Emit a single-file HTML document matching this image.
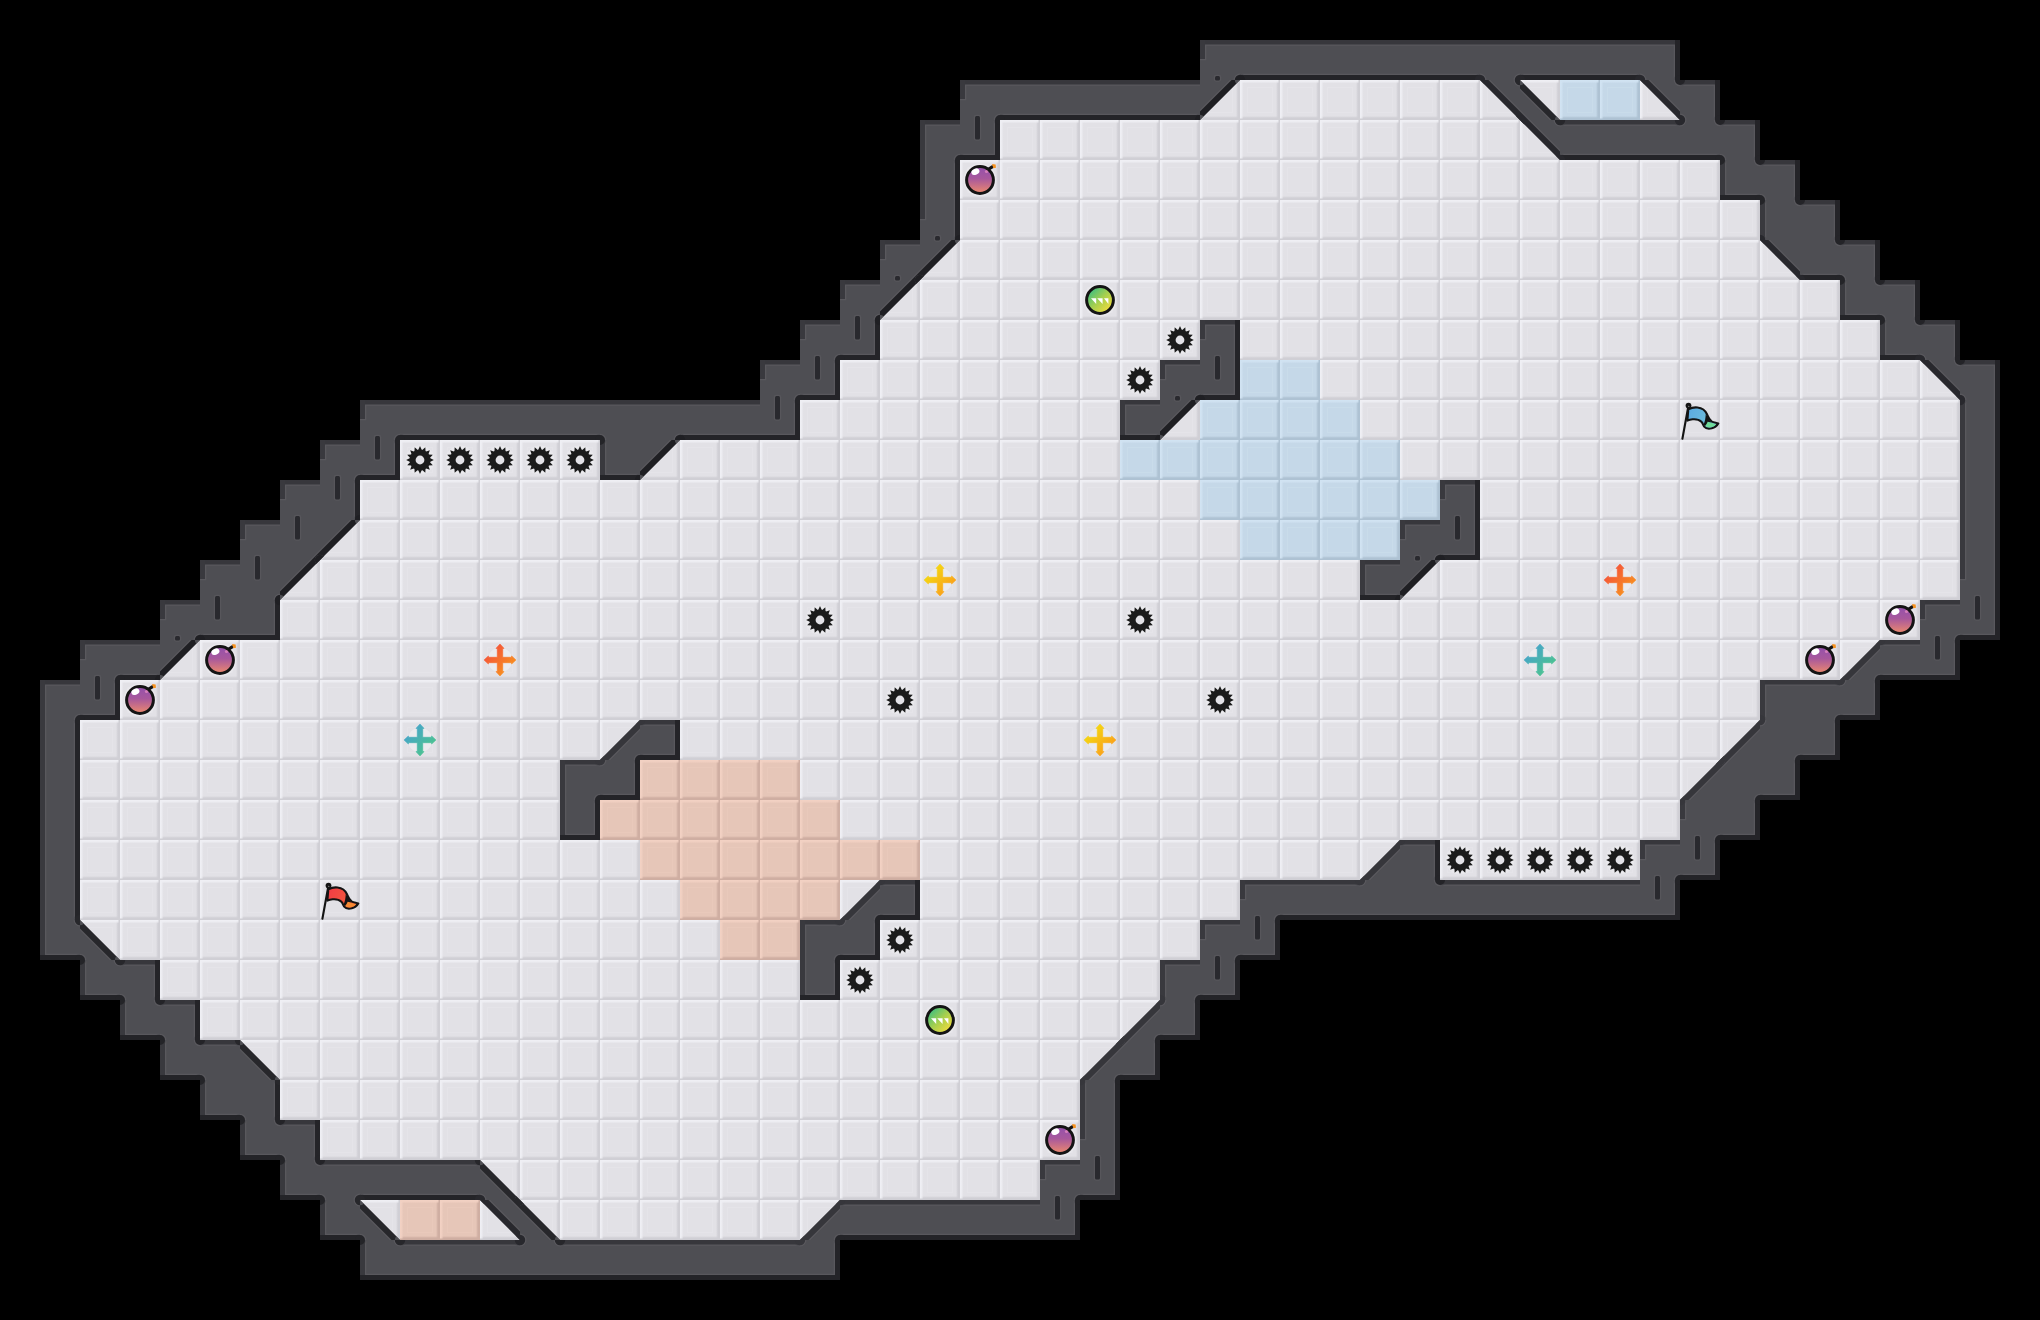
<!DOCTYPE html>
<html lang="en"><head><meta charset="utf-8"><title>Map</title><style>html,body{margin:0;padding:0;background:#000;font-family:"Liberation Sans",sans-serif}body{width:2040px;height:1320px;overflow:hidden}svg{display:block}</style></head><body>
<svg width="2040" height="1320" viewBox="0 0 2040 1320">
<defs>
<linearGradient id="pfsx" x1="0" y1="0" x2="1" y2="0"><stop offset="0" stop-color="#d0cfd5" stop-opacity="0"/><stop offset=".5" stop-color="#d0cfd5"/><stop offset="1" stop-color="#d0cfd5"/></linearGradient>
<linearGradient id="pfsy" x1="0" y1="0" x2="0" y2="1"><stop offset="0" stop-color="#d0cfd5" stop-opacity="0"/><stop offset=".5" stop-color="#d0cfd5"/><stop offset="1" stop-color="#d0cfd5"/></linearGradient>
<linearGradient id="pfhx" x1="0" y1="0" x2="1" y2="0"><stop offset="0" stop-color="#efeff4"/><stop offset=".3" stop-color="#efeff4"/><stop offset="1" stop-color="#efeff4" stop-opacity="0"/></linearGradient>
<linearGradient id="pfhy" x1="0" y1="0" x2="0" y2="1"><stop offset="0" stop-color="#efeff4"/><stop offset=".3" stop-color="#efeff4"/><stop offset="1" stop-color="#efeff4" stop-opacity="0"/></linearGradient>
<pattern id="pf" width="40" height="40" patternUnits="userSpaceOnUse"><rect width="40" height="40" fill="#e2e1e6"/><rect x="7.5" y="7.5" width="25" height="25" fill="none" stroke="#e5e4e9" stroke-width="1"/><rect x="36" width="4" height="40" fill="url(#pfsx)"/><rect y="36" width="40" height="4" fill="url(#pfsy)"/><rect width="3.6" height="38.5" fill="url(#pfhx)"/><rect width="38.5" height="3.6" fill="url(#pfhy)"/></pattern>
<linearGradient id="pbsx" x1="0" y1="0" x2="1" y2="0"><stop offset="0" stop-color="#aec2d3" stop-opacity="0"/><stop offset=".5" stop-color="#aec2d3"/><stop offset="1" stop-color="#aec2d3"/></linearGradient>
<linearGradient id="pbsy" x1="0" y1="0" x2="0" y2="1"><stop offset="0" stop-color="#aec2d3" stop-opacity="0"/><stop offset=".5" stop-color="#aec2d3"/><stop offset="1" stop-color="#aec2d3"/></linearGradient>
<linearGradient id="pbhx" x1="0" y1="0" x2="1" y2="0"><stop offset="0" stop-color="#d1e3f2"/><stop offset=".3" stop-color="#d1e3f2"/><stop offset="1" stop-color="#d1e3f2" stop-opacity="0"/></linearGradient>
<linearGradient id="pbhy" x1="0" y1="0" x2="0" y2="1"><stop offset="0" stop-color="#d1e3f2"/><stop offset=".3" stop-color="#d1e3f2"/><stop offset="1" stop-color="#d1e3f2" stop-opacity="0"/></linearGradient>
<pattern id="pb" width="40" height="40" patternUnits="userSpaceOnUse"><rect width="40" height="40" fill="#c5d8e8"/><rect x="7.5" y="7.5" width="25" height="25" fill="none" stroke="#c9dcea" stroke-width="1"/><rect x="36" width="4" height="40" fill="url(#pbsx)"/><rect y="36" width="40" height="4" fill="url(#pbsy)"/><rect width="3.6" height="38.5" fill="url(#pbhx)"/><rect width="38.5" height="3.6" fill="url(#pbhy)"/></pattern>
<linearGradient id="pssx" x1="0" y1="0" x2="1" y2="0"><stop offset="0" stop-color="#cfaea2" stop-opacity="0"/><stop offset=".5" stop-color="#cfaea2"/><stop offset="1" stop-color="#cfaea2"/></linearGradient>
<linearGradient id="pssy" x1="0" y1="0" x2="0" y2="1"><stop offset="0" stop-color="#cfaea2" stop-opacity="0"/><stop offset=".5" stop-color="#cfaea2"/><stop offset="1" stop-color="#cfaea2"/></linearGradient>
<linearGradient id="pshx" x1="0" y1="0" x2="1" y2="0"><stop offset="0" stop-color="#f2d1c3"/><stop offset=".3" stop-color="#f2d1c3"/><stop offset="1" stop-color="#f2d1c3" stop-opacity="0"/></linearGradient>
<linearGradient id="pshy" x1="0" y1="0" x2="0" y2="1"><stop offset="0" stop-color="#f2d1c3"/><stop offset=".3" stop-color="#f2d1c3"/><stop offset="1" stop-color="#f2d1c3" stop-opacity="0"/></linearGradient>
<pattern id="ps" width="40" height="40" patternUnits="userSpaceOnUse"><rect width="40" height="40" fill="#e6c6b8"/><rect x="7.5" y="7.5" width="25" height="25" fill="none" stroke="#e9c9bb" stroke-width="1"/><rect x="36" width="4" height="40" fill="url(#pssx)"/><rect y="36" width="40" height="4" fill="url(#pssy)"/><rect width="3.6" height="38.5" fill="url(#pshx)"/><rect width="38.5" height="3.6" fill="url(#pshy)"/></pattern>
<clipPath id="wc"><path d="M1200 40h480v40h-480zM960 80h240v40h-240zM1680 80h40v40h-40zM920 120h80v40h-80zM1560 120h200v40h-200zM920 160h40v40h-40zM1720 160h80v40h-80zM920 200h40v40h-40zM1760 200h80v40h-80zM880 240h40v40h-40zM1800 240h80v40h-80zM840 280h40v40h-40zM1840 280h80v40h-80zM800 320h80v40h-80zM1200 320h40v40h-40zM1880 320h80v40h-80zM760 360h80v40h-80zM1160 360h80v40h-80zM1960 360h40v40h-40zM360 400h440v40h-440zM1120 400h40v40h-40zM1960 400h40v40h-40zM320 440h80v40h-80zM600 440h40v40h-40zM1960 440h40v40h-40zM280 480h80v40h-80zM1440 480h40v40h-40zM1960 480h40v40h-40zM240 520h80v40h-80zM1400 520h80v40h-80zM1960 520h40v40h-40zM200 560h80v40h-80zM1360 560h40v40h-40zM1960 560h40v40h-40zM160 600h120v40h-120zM1920 600h80v40h-80zM80 640h80v40h-80zM1880 640h80v40h-80zM40 680h80v40h-80zM1760 680h120v40h-120zM40 720h40v40h-40zM640 720h40v40h-40zM1760 720h80v40h-80zM40 760h40v40h-40zM560 760h80v40h-80zM1720 760h80v40h-80zM40 800h40v40h-40zM560 800h40v40h-40zM1680 800h80v40h-80zM40 840h40v40h-40zM1400 840h40v40h-40zM1640 840h80v40h-80zM40 880h40v40h-40zM880 880h40v40h-40zM1240 880h440v40h-440zM40 920h40v40h-40zM800 920h80v40h-80zM1200 920h80v40h-80zM80 960h80v40h-80zM800 960h40v40h-40zM1160 960h80v40h-80zM120 1000h80v40h-80zM1160 1000h40v40h-40zM160 1040h80v40h-80zM1120 1040h40v40h-40zM200 1080h80v40h-80zM1080 1080h40v40h-40zM240 1120h80v40h-80zM1080 1120h40v40h-40zM280 1160h200v40h-200zM1040 1160h80v40h-80zM320 1200h40v40h-40zM840 1200h240v40h-240zM360 1240h480v40h-480zM1200 80h40l-40 40zM1480 80h40v40zM1520 80v40h40zM1640 80h40v40zM1520 120h40v40zM920 240h40l-40 40zM1760 240h40v40zM880 280h40l-40 40zM1920 360h40v40zM1160 400h40l-40 40zM640 440h40l-40 40zM320 520h40l-40 40zM280 560h40l-40 40zM1400 560h40l-40 40zM160 640h40l-40 40zM1880 640v40h-40zM640 720v40h-40zM1760 720v40h-40zM1720 760v40h-40zM1400 840v40h-40zM880 880v40h-40zM80 920v40h40zM1160 1000v40h-40zM240 1040v40h40zM1120 1040v40h-40zM480 1160v40h40zM360 1200v40h40zM480 1200h40v40zM520 1200v40h40zM840 1200v40h-40z"/></clipPath>
<g id="sp"><circle r="14.5" fill="#fff" opacity=".25"/><polygon points="0.00,-13.90 1.95,-9.81 5.32,-12.84 5.56,-8.31 9.83,-9.83 8.31,-5.56 12.84,-5.32 9.81,-1.95 13.90,0.00 9.81,1.95 12.84,5.32 8.31,5.56 9.83,9.83 5.56,8.31 5.32,12.84 1.95,9.81 0.00,13.90 -1.95,9.81 -5.32,12.84 -5.56,8.31 -9.83,9.83 -8.31,5.56 -12.84,5.32 -9.81,1.95 -13.90,0.00 -9.81,-1.95 -12.84,-5.32 -8.31,-5.56 -9.83,-9.83 -5.56,-8.31 -5.32,-12.84 -1.95,-9.81" fill="#1b1b1b"/><circle r="10.5" fill="#1b1b1b"/><circle r="4.4" fill="#e3e2e7"/></g>
<linearGradient id="gb" x1="0" y1="0" x2="0" y2="1"><stop offset="0" stop-color="#9350ad"/><stop offset=".45" stop-color="#a8589c"/><stop offset="1" stop-color="#ee8a6c"/></linearGradient>
<g id="bm"><circle r="16.5" fill="#fff" opacity=".25"/><circle r="13.4" fill="url(#gb)" stroke="#141414" stroke-width="3"/><path d="M8 -10.5l4.2 -2.6" stroke="#141414" stroke-width="3.2" fill="none" stroke-linecap="round"/><ellipse cx="-4.6" cy="-8.3" rx="4.2" ry="3" fill="#fff" transform="rotate(-25 -4.6 -8.3)"/><circle cx="6.5" cy="-8.5" r="1.6" fill="#e58ac0" opacity=".8"/><path d="M12 -16l3.6 .4l.4 3.4l-2.6 .4z" fill="#f6921e"/></g>
<linearGradient id="gg" x1="0" y1="0" x2="1" y2="1"><stop offset=".1" stop-color="#35bd84"/><stop offset=".5" stop-color="#a6cf4e"/><stop offset=".9" stop-color="#f7dc3c"/></linearGradient>
<g id="gr"><circle r="16.5" fill="#fff" opacity=".25"/><circle r="13.4" fill="url(#gg)" stroke="#141414" stroke-width="3"/><path d="M-9 -1.7h5.2v5.7zM-2.8 -1.7h5.4v5.7zM4 -1.7h4.4v5.7z" fill="#fff"/></g>
<linearGradient id="lco" x1="0" y1="0" x2="1" y2="1"><stop offset=".15" stop-color="#f4503a"/><stop offset=".85" stop-color="#f8941e"/></linearGradient>
<g id="co"><circle r="12.3" fill="#f2f4f4" opacity=".55"/><path d="M-2.7 -2.7V-11.6H-4L0 -15.9L4 -11.6H2.7V-2.7H11.6V-4L15.9 0L11.6 4V2.7H2.7V11.6H4L0 15.9L-4 11.6H-2.7V2.7H-11.6V4L-15.9 0L-11.6 -4V-2.7z" fill="url(#lco)" stroke="url(#lco)" stroke-width=".7" stroke-linejoin="round"/></g>
<linearGradient id="lct" x1="0" y1="0" x2="1" y2="1"><stop offset=".15" stop-color="#45a3cc"/><stop offset=".85" stop-color="#4dc58c"/></linearGradient>
<g id="ct"><circle r="12.3" fill="#f2f4f4" opacity=".55"/><path d="M-2.7 -2.7V-11.6H-4L0 -15.9L4 -11.6H2.7V-2.7H11.6V-4L15.9 0L11.6 4V2.7H2.7V11.6H4L0 15.9L-4 11.6H-2.7V2.7H-11.6V4L-15.9 0L-11.6 -4V-2.7z" fill="url(#lct)" stroke="url(#lct)" stroke-width=".7" stroke-linejoin="round"/></g>
<linearGradient id="lcy" x1="0" y1="0" x2="1" y2="1"><stop offset=".15" stop-color="#f3dc10"/><stop offset=".85" stop-color="#fb9c1c"/></linearGradient>
<g id="cy"><circle r="12.3" fill="#f2f4f4" opacity=".55"/><path d="M-2.7 -2.7V-11.6H-4L0 -15.9L4 -11.6H2.7V-2.7H11.6V-4L15.9 0L11.6 4V2.7H2.7V11.6H4L0 15.9L-4 11.6H-2.7V2.7H-11.6V4L-15.9 0L-11.6 -4V-2.7z" fill="url(#lcy)" stroke="url(#lcy)" stroke-width=".7" stroke-linejoin="round"/></g>
<linearGradient id="ffr" x1="0" y1="0" x2="1" y2=".3"><stop offset="0" stop-color="#f23a45"/><stop offset="1" stop-color="#f2603c"/></linearGradient>
<g id="fr"><path d="M8.3 9.2C11.5 7.6 14.5 7.2 17.5 7.5C22 8 25.4 10.6 27 14.2C28.3 17.2 29.3 19.8 31.6 21.3C33.6 22.5 36 22.6 38.3 23.4C36.7 26 34.6 27.6 31.8 28.3C28.6 29 25.6 28.4 24.2 26.6C23 25 23 23.4 21.4 21.8C19.2 19.7 15.8 19 12.6 19.3C10.6 19.5 8.8 20 7.4 20.6z" fill="url(#ffr)" stroke="#141414" stroke-width="2.1" stroke-linejoin="round"/><path d="M27.4 21.4C30 22.6 33 23.6 36.2 24.2C34.6 26 32.4 27.2 29.8 27.4C27.8 27.5 26.2 27 25.3 25.8C26.3 24.4 27 23 27.4 21.4z" fill="#f68a32"/><path d="M25.7 14.2C27 15.6 28.2 17.8 29.2 19.8C29.8 20.8 30.6 21.6 31.6 22.4L27.6 21.8C27.1 23.4 26.1 24.9 25.1 26.1C24.4 25.7 23.9 25 23.7 24.3C24.9 21.4 25.6 18.2 25.7 14.2z" fill="#141414"/><path d="M8.4 6L2.4 38.8" stroke="#141414" stroke-width="2.1" stroke-linecap="round"/><circle cx="8.5" cy="5.6" r="2.9" fill="#141414"/><circle cx="8.8" cy="6.3" r=".55" fill="#bbb"/></g>
<linearGradient id="ffb" x1="0" y1="0" x2="1" y2=".3"><stop offset="0" stop-color="#5aa9e2"/><stop offset="1" stop-color="#72c2da"/></linearGradient>
<g id="fb"><path d="M8.3 9.2C11.5 7.6 14.5 7.2 17.5 7.5C22 8 25.4 10.6 27 14.2C28.3 17.2 29.3 19.8 31.6 21.3C33.6 22.5 36 22.6 38.3 23.4C36.7 26 34.6 27.6 31.8 28.3C28.6 29 25.6 28.4 24.2 26.6C23 25 23 23.4 21.4 21.8C19.2 19.7 15.8 19 12.6 19.3C10.6 19.5 8.8 20 7.4 20.6z" fill="url(#ffb)" stroke="#141414" stroke-width="2.1" stroke-linejoin="round"/><path d="M27.4 21.4C30 22.6 33 23.6 36.2 24.2C34.6 26 32.4 27.2 29.8 27.4C27.8 27.5 26.2 27 25.3 25.8C26.3 24.4 27 23 27.4 21.4z" fill="#6fdc98"/><path d="M25.7 14.2C27 15.6 28.2 17.8 29.2 19.8C29.8 20.8 30.6 21.6 31.6 22.4L27.6 21.8C27.1 23.4 26.1 24.9 25.1 26.1C24.4 25.7 23.9 25 23.7 24.3C24.9 21.4 25.6 18.2 25.7 14.2z" fill="#141414"/><path d="M8.4 6L2.4 38.8" stroke="#141414" stroke-width="2.1" stroke-linecap="round"/><circle cx="8.5" cy="5.6" r="2.9" fill="#141414"/><circle cx="8.8" cy="6.3" r=".55" fill="#bbb"/></g>
</defs>
<rect width="2040" height="1320" fill="#000"/>
<path d="M1200 80h480v40h-480zM1000 120h560v40h-560zM960 160h760v40h-760zM960 200h800v40h-800zM920 240h880v40h-880zM880 280h960v40h-960zM880 320h320v40h-320zM1240 320h640v40h-640zM840 360h320v40h-320zM1240 360h720v40h-720zM800 400h320v40h-320zM1160 400h800v40h-800zM400 440h200v40h-200zM640 440h1320v40h-1320zM360 480h1080v40h-1080zM1480 480h480v40h-480zM320 520h1080v40h-1080zM1480 520h480v40h-480zM280 560h1080v40h-1080zM1400 560h560v40h-560zM280 600h1640v40h-1640zM160 640h1720v40h-1720zM120 680h1640v40h-1640zM80 720h560v40h-560zM680 720h1080v40h-1080zM80 760h480v40h-480zM640 760h1080v40h-1080zM80 800h480v40h-480zM600 800h1080v40h-1080zM80 840h1320v40h-1320zM1440 840h200v40h-200zM80 880h800v40h-800zM920 880h320v40h-320zM80 920h720v40h-720zM880 920h320v40h-320zM160 960h640v40h-640zM840 960h320v40h-320zM200 1000h960v40h-960zM240 1040h880v40h-880zM280 1080h800v40h-800zM320 1120h760v40h-760zM480 1160h560v40h-560zM360 1200h480v40h-480z" fill="url(#pf)"/>
<path d="M1560 80h80v40h-80zM1240 360h80v40h-80zM1200 400h160v40h-160zM1120 440h280v40h-280zM1200 480h240v40h-240zM1240 520h160v40h-160z" fill="url(#pb)"/>
<path d="M640 760h160v40h-160zM600 800h240v40h-240zM640 840h280v40h-280zM680 880h160v40h-160zM720 920h80v40h-80zM400 1200h80v40h-80z" fill="url(#ps)"/>
<path d="M1200 40h480v40h-480zM960 80h240v40h-240zM1680 80h40v40h-40zM920 120h80v40h-80zM1560 120h200v40h-200zM920 160h40v40h-40zM1720 160h80v40h-80zM920 200h40v40h-40zM1760 200h80v40h-80zM880 240h40v40h-40zM1800 240h80v40h-80zM840 280h40v40h-40zM1840 280h80v40h-80zM800 320h80v40h-80zM1200 320h40v40h-40zM1880 320h80v40h-80zM760 360h80v40h-80zM1160 360h80v40h-80zM1960 360h40v40h-40zM360 400h440v40h-440zM1120 400h40v40h-40zM1960 400h40v40h-40zM320 440h80v40h-80zM600 440h40v40h-40zM1960 440h40v40h-40zM280 480h80v40h-80zM1440 480h40v40h-40zM1960 480h40v40h-40zM240 520h80v40h-80zM1400 520h80v40h-80zM1960 520h40v40h-40zM200 560h80v40h-80zM1360 560h40v40h-40zM1960 560h40v40h-40zM160 600h120v40h-120zM1920 600h80v40h-80zM80 640h80v40h-80zM1880 640h80v40h-80zM40 680h80v40h-80zM1760 680h120v40h-120zM40 720h40v40h-40zM640 720h40v40h-40zM1760 720h80v40h-80zM40 760h40v40h-40zM560 760h80v40h-80zM1720 760h80v40h-80zM40 800h40v40h-40zM560 800h40v40h-40zM1680 800h80v40h-80zM40 840h40v40h-40zM1400 840h40v40h-40zM1640 840h80v40h-80zM40 880h40v40h-40zM880 880h40v40h-40zM1240 880h440v40h-440zM40 920h40v40h-40zM800 920h80v40h-80zM1200 920h80v40h-80zM80 960h80v40h-80zM800 960h40v40h-40zM1160 960h80v40h-80zM120 1000h80v40h-80zM1160 1000h40v40h-40zM160 1040h80v40h-80zM1120 1040h40v40h-40zM200 1080h80v40h-80zM1080 1080h40v40h-40zM240 1120h80v40h-80zM1080 1120h40v40h-40zM280 1160h200v40h-200zM1040 1160h80v40h-80zM320 1200h40v40h-40zM840 1200h240v40h-240zM360 1240h480v40h-480zM1200 80h40l-40 40zM1480 80h40v40zM1520 80v40h40zM1640 80h40v40zM1520 120h40v40zM920 240h40l-40 40zM1760 240h40v40zM880 280h40l-40 40zM1920 360h40v40zM1160 400h40l-40 40zM640 440h40l-40 40zM320 520h40l-40 40zM280 560h40l-40 40zM1400 560h40l-40 40zM160 640h40l-40 40zM1880 640v40h-40zM640 720v40h-40zM1760 720v40h-40zM1720 760v40h-40zM1400 840v40h-40zM880 880v40h-40zM80 920v40h40zM1160 1000v40h-40zM240 1040v40h40zM1120 1040v40h-40zM480 1160v40h40zM360 1200v40h40zM480 1200h40v40zM520 1200v40h40zM840 1200v40h-40z" fill="#4e4e53"/>
<g clip-path="url(#wc)">
<path d="M1200 40h40v5.8h-40zM1200 40h6.3v20.3h-6.3zM1240 40h40v5.8h-40zM1240 73.7h40v6.3h-40zM1280 40h40v5.8h-40zM1280 73.7h40v6.3h-40zM1320 40h40v5.8h-40zM1320 73.7h40v6.3h-40zM1360 40h40v5.8h-40zM1360 73.7h40v6.3h-40zM1400 40h40v5.8h-40zM1400 73.7h40v6.3h-40zM1440 40h40v5.8h-40zM1440 73.7h40v6.3h-40zM1480 40h40v5.8h-40zM1520 40h40v5.8h-40zM1520 73.7h40v6.3h-40zM1560 40h40v5.8h-40zM1560 73.7h40v6.3h-40zM1600 40h40v5.8h-40zM1600 73.7h40v6.3h-40zM1640 40h40v5.8h-40zM1673.7 40h6.3v40h-6.3zM960 80h40v5.8h-40zM960 80h6.3v20.3h-6.3zM1000 80h40v5.8h-40zM1000 113.7h40v6.3h-40zM1040 80h40v5.8h-40zM1040 113.7h40v6.3h-40zM1080 80h40v5.8h-40zM1080 113.7h40v6.3h-40zM1120 80h40v5.8h-40zM1120 113.7h40v6.3h-40zM1160 80h40v5.8h-40zM1160 113.7h40v6.3h-40zM1680 80h40v5.8h-40zM1713.7 80h6.3v40h-6.3zM920 120h40v5.8h-40zM920 120h6.3v40h-6.3zM993.7 120h6.3v40h-6.3zM960 153.7h40v6.3h-40zM1560 120h40v5.8h-40zM1560 153.7h40v6.3h-40zM1600 120h40v5.8h-40zM1600 153.7h40v6.3h-40zM1640 120h40v5.8h-40zM1640 153.7h40v6.3h-40zM1680 153.7h40v6.3h-40zM1720 120h40v5.8h-40zM1753.7 120h6.3v40h-6.3zM920 160h6.3v40h-6.3zM953.7 160h6.3v40h-6.3zM1720 160h6.3v40h-6.3zM1720 193.7h40v6.3h-40zM1760 160h40v5.8h-40zM1793.7 160h6.3v40h-6.3zM920 200h6.3v20.3h-6.3zM953.7 200h6.3v40h-6.3zM1760 200h6.3v40h-6.3zM1800 200h40v5.8h-40zM1833.7 200h6.3v40h-6.3zM880 240h40v5.8h-40zM880 240h6.3v20.3h-6.3zM1800 273.7h40v6.3h-40zM1840 240h40v5.8h-40zM1873.7 240h6.3v40h-6.3zM840 280h40v5.8h-40zM840 280h6.3v20.3h-6.3zM1840 280h6.3v40h-6.3zM1840 313.7h40v6.3h-40zM1880 280h40v5.8h-40zM1913.7 280h6.3v40h-6.3zM800 320h40v5.8h-40zM800 320h6.3v20.3h-6.3zM873.7 320h6.3v40h-6.3zM840 353.7h40v6.3h-40zM1200 320h40v5.8h-40zM1200 320h6.3v20.3h-6.3zM1233.7 320h6.3v40h-6.3zM1880 320h6.3v40h-6.3zM1880 353.7h40v6.3h-40zM1920 320h40v5.8h-40zM1953.7 320h6.3v40h-6.3zM760 360h40v5.8h-40zM760 360h6.3v20.3h-6.3zM833.7 360h6.3v40h-6.3zM800 393.7h40v6.3h-40zM1160 360h40v5.8h-40zM1160 360h6.3v20.3h-6.3zM1233.7 360h6.3v40h-6.3zM1200 393.7h40v6.3h-40zM1960 360h40v5.8h-40zM1993.7 360h6.3v40h-6.3zM360 400h40v5.8h-40zM360 400h6.3v20.3h-6.3zM400 400h40v5.8h-40zM400 433.7h40v6.3h-40zM440 400h40v5.8h-40zM440 433.7h40v6.3h-40zM480 400h40v5.8h-40zM480 433.7h40v6.3h-40zM520 400h40v5.8h-40zM520 433.7h40v6.3h-40zM560 400h40v5.8h-40zM560 433.7h40v6.3h-40zM600 400h40v5.8h-40zM640 400h40v5.8h-40zM680 400h40v5.8h-40zM680 433.7h40v6.3h-40zM720 400h40v5.8h-40zM720 433.7h40v6.3h-40zM793.7 400h6.3v40h-6.3zM760 433.7h40v6.3h-40zM1120 400h40v5.8h-40zM1120 400h6.3v40h-6.3zM1120 433.7h40v6.3h-40zM1960 400h6.3v40h-6.3zM1993.7 400h6.3v40h-6.3zM320 440h40v5.8h-40zM320 440h6.3v20.3h-6.3zM393.7 440h6.3v40h-6.3zM360 473.7h40v6.3h-40zM600 440h6.3v40h-6.3zM600 473.7h40v6.3h-40zM1960 440h6.3v40h-6.3zM1993.7 440h6.3v40h-6.3zM280 480h40v5.8h-40zM280 480h6.3v20.3h-6.3zM353.7 480h6.3v40h-6.3zM1440 480h40v5.8h-40zM1440 480h6.3v20.3h-6.3zM1473.7 480h6.3v40h-6.3zM1960 480h6.3v40h-6.3zM1993.7 480h6.3v40h-6.3zM240 520h40v5.8h-40zM240 520h6.3v20.3h-6.3zM1400 520h40v5.8h-40zM1400 520h6.3v20.3h-6.3zM1473.7 520h6.3v40h-6.3zM1440 553.7h40v6.3h-40zM1960 520h6.3v40h-6.3zM1993.7 520h6.3v40h-6.3zM200 560h40v5.8h-40zM200 560h6.3v20.3h-6.3zM1360 560h40v5.8h-40zM1360 560h6.3v40h-6.3zM1360 593.7h40v6.3h-40zM1960 560h6.3v20.3h-6.3zM1993.7 560h6.3v40h-6.3zM160 600h40v5.8h-40zM160 600h6.3v20.3h-6.3zM200 633.7h40v6.3h-40zM273.7 600h6.3v40h-6.3zM240 633.7h40v6.3h-40zM1920 600h40v5.8h-40zM1920 600h6.3v20.3h-6.3zM1993.7 600h6.3v40h-6.3zM1960 633.7h40v6.3h-40zM80 640h40v5.8h-40zM80 640h6.3v20.3h-6.3zM120 640h40v5.8h-40zM120 673.7h40v6.3h-40zM1880 640h40v5.8h-40zM1880 673.7h40v6.3h-40zM1953.7 640h6.3v40h-6.3zM1920 673.7h40v6.3h-40zM40 680h40v5.8h-40zM40 680h6.3v40h-6.3zM113.7 680h6.3v40h-6.3zM80 713.7h40v6.3h-40zM1760 680h40v5.8h-40zM1760 680h6.3v40h-6.3zM1800 680h40v5.8h-40zM1873.7 680h6.3v40h-6.3zM1840 713.7h40v6.3h-40zM40 720h6.3v40h-6.3zM73.7 720h6.3v40h-6.3zM640 720h40v5.8h-40zM673.7 720h6.3v40h-6.3zM640 753.7h40v6.3h-40zM1833.7 720h6.3v40h-6.3zM1800 753.7h40v6.3h-40zM40 760h6.3v40h-6.3zM73.7 760h6.3v40h-6.3zM560 760h40v5.8h-40zM560 760h6.3v40h-6.3zM633.7 760h6.3v40h-6.3zM600 793.7h40v6.3h-40zM1793.7 760h6.3v40h-6.3zM1760 793.7h40v6.3h-40zM40 800h6.3v40h-6.3zM73.7 800h6.3v40h-6.3zM560 800h6.3v40h-6.3zM593.7 800h6.3v40h-6.3zM560 833.7h40v6.3h-40zM1680 800h6.3v20.3h-6.3zM1753.7 800h6.3v40h-6.3zM1720 833.7h40v6.3h-40zM40 840h6.3v40h-6.3zM73.7 840h6.3v40h-6.3zM1400 840h40v5.8h-40zM1433.7 840h6.3v40h-6.3zM1640 840h40v5.8h-40zM1640 840h6.3v20.3h-6.3zM1713.7 840h6.3v40h-6.3zM1680 873.7h40v6.3h-40zM40 880h6.3v40h-6.3zM73.7 880h6.3v40h-6.3zM880 880h40v5.8h-40zM913.7 880h6.3v40h-6.3zM880 913.7h40v6.3h-40zM1240 880h40v5.8h-40zM1240 880h6.3v20.3h-6.3zM1280 880h40v5.8h-40zM1280 913.7h40v6.3h-40zM1320 880h40v5.8h-40zM1320 913.7h40v6.3h-40zM1360 913.7h40v6.3h-40zM1400 913.7h40v6.3h-40zM1440 880h40v5.8h-40zM1440 913.7h40v6.3h-40zM1480 880h40v5.8h-40zM1480 913.7h40v6.3h-40zM1520 880h40v5.8h-40zM1520 913.7h40v6.3h-40zM1560 880h40v5.8h-40zM1560 913.7h40v6.3h-40zM1600 880h40v5.8h-40zM1600 913.7h40v6.3h-40zM1673.7 880h6.3v40h-6.3zM1640 913.7h40v6.3h-40zM40 920h6.3v40h-6.3zM40 953.7h40v6.3h-40zM800 920h40v5.8h-40zM800 920h6.3v40h-6.3zM873.7 920h6.3v40h-6.3zM840 953.7h40v6.3h-40zM1200 920h40v5.8h-40zM1200 920h6.3v20.3h-6.3zM1273.7 920h6.3v40h-6.3zM1240 953.7h40v6.3h-40zM80 960h6.3v40h-6.3zM80 993.7h40v6.3h-40zM120 960h40v5.8h-40zM153.7 960h6.3v40h-6.3zM800 960h6.3v40h-6.3zM833.7 960h6.3v40h-6.3zM800 993.7h40v6.3h-40zM1160 960h40v5.8h-40zM1160 960h6.3v40h-6.3zM1233.7 960h6.3v40h-6.3zM1200 993.7h40v6.3h-40zM120 1000h6.3v40h-6.3zM120 1033.7h40v6.3h-40zM160 1000h40v5.8h-40zM193.7 1000h6.3v40h-6.3zM1193.7 1000h6.3v40h-6.3zM1160 1033.7h40v6.3h-40zM160 1040h6.3v40h-6.3zM160 1073.7h40v6.3h-40zM200 1040h40v5.8h-40zM1153.7 1040h6.3v40h-6.3zM1120 1073.7h40v6.3h-40zM200 1080h6.3v40h-6.3zM200 1113.7h40v6.3h-40zM273.7 1080h6.3v40h-6.3zM1080 1080h6.3v40h-6.3zM1113.7 1080h6.3v40h-6.3zM240 1120h6.3v40h-6.3zM240 1153.7h40v6.3h-40zM280 1120h40v5.8h-40zM313.7 1120h6.3v40h-6.3zM1080 1120h6.3v20.3h-6.3zM1113.7 1120h6.3v40h-6.3zM280 1160h6.3v40h-6.3zM280 1193.7h40v6.3h-40zM320 1160h40v5.8h-40zM360 1160h40v5.8h-40zM360 1193.7h40v6.3h-40zM400 1160h40v5.8h-40zM400 1193.7h40v6.3h-40zM440 1160h40v5.8h-40zM440 1193.7h40v6.3h-40zM1040 1160h40v5.8h-40zM1040 1160h6.3v20.3h-6.3zM1113.7 1160h6.3v40h-6.3zM1080 1193.7h40v6.3h-40zM320 1200h6.3v40h-6.3zM320 1233.7h40v6.3h-40zM840 1200h40v5.8h-40zM840 1233.7h40v6.3h-40zM880 1200h40v5.8h-40zM880 1233.7h40v6.3h-40zM920 1200h40v5.8h-40zM920 1233.7h40v6.3h-40zM960 1200h40v5.8h-40zM960 1233.7h40v6.3h-40zM1000 1200h40v5.8h-40zM1000 1233.7h40v6.3h-40zM1073.7 1200h6.3v40h-6.3zM1040 1233.7h40v6.3h-40zM360 1240h6.3v40h-6.3zM360 1273.7h40v6.3h-40zM400 1240h40v5.8h-40zM400 1273.7h40v6.3h-40zM440 1240h40v5.8h-40zM440 1273.7h40v6.3h-40zM480 1240h40v5.8h-40zM480 1273.7h40v6.3h-40zM520 1273.7h40v6.3h-40zM560 1240h40v5.8h-40zM560 1273.7h40v6.3h-40zM600 1240h40v5.8h-40zM600 1273.7h40v6.3h-40zM640 1240h40v5.8h-40zM640 1273.7h40v6.3h-40zM680 1240h40v5.8h-40zM680 1273.7h40v6.3h-40zM720 1240h40v5.8h-40zM720 1273.7h40v6.3h-40zM760 1240h40v5.8h-40zM760 1273.7h40v6.3h-40zM833.7 1240h6.3v40h-6.3zM800 1273.7h40v6.3h-40zM1673.7 80a6.3 6.3 0 1 0 12.6 0a6.3 6.3 0 1 0 -12.6 0zM993.7 120a6.3 6.3 0 1 0 12.6 0a6.3 6.3 0 1 0 -12.6 0zM1713.7 120a6.3 6.3 0 1 0 12.6 0a6.3 6.3 0 1 0 -12.6 0zM953.7 160a6.3 6.3 0 1 0 12.6 0a6.3 6.3 0 1 0 -12.6 0zM1713.7 160a6.3 6.3 0 1 0 12.6 0a6.3 6.3 0 1 0 -12.6 0zM1753.7 160a6.3 6.3 0 1 0 12.6 0a6.3 6.3 0 1 0 -12.6 0zM1753.7 200a6.3 6.3 0 1 0 12.6 0a6.3 6.3 0 1 0 -12.6 0zM1793.7 200a6.3 6.3 0 1 0 12.6 0a6.3 6.3 0 1 0 -12.6 0zM1833.7 240a6.3 6.3 0 1 0 12.6 0a6.3 6.3 0 1 0 -12.6 0zM1833.7 280a6.3 6.3 0 1 0 12.6 0a6.3 6.3 0 1 0 -12.6 0zM1873.7 280a6.3 6.3 0 1 0 12.6 0a6.3 6.3 0 1 0 -12.6 0zM1873.7 320a6.3 6.3 0 1 0 12.6 0a6.3 6.3 0 1 0 -12.6 0zM1913.7 320a6.3 6.3 0 1 0 12.6 0a6.3 6.3 0 1 0 -12.6 0zM833.7 360a6.3 6.3 0 1 0 12.6 0a6.3 6.3 0 1 0 -12.6 0zM1953.7 360a6.3 6.3 0 1 0 12.6 0a6.3 6.3 0 1 0 -12.6 0zM793.7 400a6.3 6.3 0 1 0 12.6 0a6.3 6.3 0 1 0 -12.6 0zM393.7 440a6.3 6.3 0 1 0 12.6 0a6.3 6.3 0 1 0 -12.6 0zM593.7 440a6.3 6.3 0 1 0 12.6 0a6.3 6.3 0 1 0 -12.6 0zM353.7 480a6.3 6.3 0 1 0 12.6 0a6.3 6.3 0 1 0 -12.6 0zM1953.7 640a6.3 6.3 0 1 0 12.6 0a6.3 6.3 0 1 0 -12.6 0zM113.7 680a6.3 6.3 0 1 0 12.6 0a6.3 6.3 0 1 0 -12.6 0zM1873.7 680a6.3 6.3 0 1 0 12.6 0a6.3 6.3 0 1 0 -12.6 0zM73.7 720a6.3 6.3 0 1 0 12.6 0a6.3 6.3 0 1 0 -12.6 0zM1833.7 720a6.3 6.3 0 1 0 12.6 0a6.3 6.3 0 1 0 -12.6 0zM633.7 760a6.3 6.3 0 1 0 12.6 0a6.3 6.3 0 1 0 -12.6 0zM1793.7 760a6.3 6.3 0 1 0 12.6 0a6.3 6.3 0 1 0 -12.6 0zM593.7 800a6.3 6.3 0 1 0 12.6 0a6.3 6.3 0 1 0 -12.6 0zM1753.7 800a6.3 6.3 0 1 0 12.6 0a6.3 6.3 0 1 0 -12.6 0zM1713.7 840a6.3 6.3 0 1 0 12.6 0a6.3 6.3 0 1 0 -12.6 0zM1433.7 880a6.3 6.3 0 1 0 12.6 0a6.3 6.3 0 1 0 -12.6 0zM1673.7 880a6.3 6.3 0 1 0 12.6 0a6.3 6.3 0 1 0 -12.6 0zM873.7 920a6.3 6.3 0 1 0 12.6 0a6.3 6.3 0 1 0 -12.6 0zM1273.7 920a6.3 6.3 0 1 0 12.6 0a6.3 6.3 0 1 0 -12.6 0zM73.7 960a6.3 6.3 0 1 0 12.6 0a6.3 6.3 0 1 0 -12.6 0zM833.7 960a6.3 6.3 0 1 0 12.6 0a6.3 6.3 0 1 0 -12.6 0zM1233.7 960a6.3 6.3 0 1 0 12.6 0a6.3 6.3 0 1 0 -12.6 0zM113.7 1000a6.3 6.3 0 1 0 12.6 0a6.3 6.3 0 1 0 -12.6 0zM153.7 1000a6.3 6.3 0 1 0 12.6 0a6.3 6.3 0 1 0 -12.6 0zM1193.7 1000a6.3 6.3 0 1 0 12.6 0a6.3 6.3 0 1 0 -12.6 0zM153.7 1040a6.3 6.3 0 1 0 12.6 0a6.3 6.3 0 1 0 -12.6 0zM193.7 1040a6.3 6.3 0 1 0 12.6 0a6.3 6.3 0 1 0 -12.6 0zM1153.7 1040a6.3 6.3 0 1 0 12.6 0a6.3 6.3 0 1 0 -12.6 0zM193.7 1080a6.3 6.3 0 1 0 12.6 0a6.3 6.3 0 1 0 -12.6 0zM1113.7 1080a6.3 6.3 0 1 0 12.6 0a6.3 6.3 0 1 0 -12.6 0zM233.7 1120a6.3 6.3 0 1 0 12.6 0a6.3 6.3 0 1 0 -12.6 0zM273.7 1120a6.3 6.3 0 1 0 12.6 0a6.3 6.3 0 1 0 -12.6 0zM273.7 1160a6.3 6.3 0 1 0 12.6 0a6.3 6.3 0 1 0 -12.6 0zM313.7 1160a6.3 6.3 0 1 0 12.6 0a6.3 6.3 0 1 0 -12.6 0zM313.7 1200a6.3 6.3 0 1 0 12.6 0a6.3 6.3 0 1 0 -12.6 0zM1073.7 1200a6.3 6.3 0 1 0 12.6 0a6.3 6.3 0 1 0 -12.6 0zM353.7 1240a6.3 6.3 0 1 0 12.6 0a6.3 6.3 0 1 0 -12.6 0zM833.7 1240a6.3 6.3 0 1 0 12.6 0a6.3 6.3 0 1 0 -12.6 0zM1240 80L1200 120v-10.3L1229.7 80zM1233.5 80a6.5 6.5 0 1 0 13.0 0a6.5 6.5 0 1 0 -13.0 0zM1193.5 120a6.5 6.5 0 1 0 13.0 0a6.5 6.5 0 1 0 -13.0 0zM1480 80L1520 120v-10.3L1490.3 80zM1473.5 80a6.5 6.5 0 1 0 13.0 0a6.5 6.5 0 1 0 -13.0 0zM1513.5 120a6.5 6.5 0 1 0 13.0 0a6.5 6.5 0 1 0 -13.0 0zM1520 120h10.3l-10.3 -10.3zM1520 80L1560 120h-10.3L1520 90.3zM1513.5 80a6.5 6.5 0 1 0 13.0 0a6.5 6.5 0 1 0 -13.0 0zM1553.5 120a6.5 6.5 0 1 0 13.0 0a6.5 6.5 0 1 0 -13.0 0zM1640 80L1680 120v-10.3L1650.3 80zM1633.5 80a6.5 6.5 0 1 0 13.0 0a6.5 6.5 0 1 0 -13.0 0zM1673.5 120a6.5 6.5 0 1 0 13.0 0a6.5 6.5 0 1 0 -13.0 0zM1520 120L1560 160v-10.3L1530.3 120zM1513.5 120a6.5 6.5 0 1 0 13.0 0a6.5 6.5 0 1 0 -13.0 0zM1553.5 160a6.5 6.5 0 1 0 13.0 0a6.5 6.5 0 1 0 -13.0 0zM960 240L920 280v-10.3L949.7 240zM953.5 240a6.5 6.5 0 1 0 13.0 0a6.5 6.5 0 1 0 -13.0 0zM913.5 280a6.5 6.5 0 1 0 13.0 0a6.5 6.5 0 1 0 -13.0 0zM920 280h-10.3l10.3 -10.3zM1760 240L1800 280v-10.3L1770.3 240zM1753.5 240a6.5 6.5 0 1 0 13.0 0a6.5 6.5 0 1 0 -13.0 0zM1793.5 280a6.5 6.5 0 1 0 13.0 0a6.5 6.5 0 1 0 -13.0 0zM920 280L880 320v-10.3L909.7 280zM913.5 280a6.5 6.5 0 1 0 13.0 0a6.5 6.5 0 1 0 -13.0 0zM873.5 320a6.5 6.5 0 1 0 13.0 0a6.5 6.5 0 1 0 -13.0 0zM1920 360L1960 400v-10.3L1930.3 360zM1913.5 360a6.5 6.5 0 1 0 13.0 0a6.5 6.5 0 1 0 -13.0 0zM1953.5 400a6.5 6.5 0 1 0 13.0 0a6.5 6.5 0 1 0 -13.0 0zM1200 400L1160 440v-10.3L1189.7 400zM1193.5 400a6.5 6.5 0 1 0 13.0 0a6.5 6.5 0 1 0 -13.0 0zM1153.5 440a6.5 6.5 0 1 0 13.0 0a6.5 6.5 0 1 0 -13.0 0zM680 440L640 480v-10.3L669.7 440zM673.5 440a6.5 6.5 0 1 0 13.0 0a6.5 6.5 0 1 0 -13.0 0zM633.5 480a6.5 6.5 0 1 0 13.0 0a6.5 6.5 0 1 0 -13.0 0zM360 520L320 560v-10.3L349.7 520zM353.5 520a6.5 6.5 0 1 0 13.0 0a6.5 6.5 0 1 0 -13.0 0zM313.5 560a6.5 6.5 0 1 0 13.0 0a6.5 6.5 0 1 0 -13.0 0zM320 560h-10.3l10.3 -10.3zM320 560L280 600v-10.3L309.7 560zM313.5 560a6.5 6.5 0 1 0 13.0 0a6.5 6.5 0 1 0 -13.0 0zM273.5 600a6.5 6.5 0 1 0 13.0 0a6.5 6.5 0 1 0 -13.0 0zM1440 560L1400 600v-10.3L1429.7 560zM1433.5 560a6.5 6.5 0 1 0 13.0 0a6.5 6.5 0 1 0 -13.0 0zM1393.5 600a6.5 6.5 0 1 0 13.0 0a6.5 6.5 0 1 0 -13.0 0zM200 640L160 680v-10.3L189.7 640zM193.5 640a6.5 6.5 0 1 0 13.0 0a6.5 6.5 0 1 0 -13.0 0zM153.5 680a6.5 6.5 0 1 0 13.0 0a6.5 6.5 0 1 0 -13.0 0zM1880 640L1840 680h10.3L1880 650.3zM1873.5 640a6.5 6.5 0 1 0 13.0 0a6.5 6.5 0 1 0 -13.0 0zM1833.5 680a6.5 6.5 0 1 0 13.0 0a6.5 6.5 0 1 0 -13.0 0zM640 720L600 760h10.3L640 730.3zM633.5 720a6.5 6.5 0 1 0 13.0 0a6.5 6.5 0 1 0 -13.0 0zM593.5 760a6.5 6.5 0 1 0 13.0 0a6.5 6.5 0 1 0 -13.0 0zM1760 720L1720 760h10.3L1760 730.3zM1753.5 720a6.5 6.5 0 1 0 13.0 0a6.5 6.5 0 1 0 -13.0 0zM1713.5 760a6.5 6.5 0 1 0 13.0 0a6.5 6.5 0 1 0 -13.0 0zM1720 760h10.3l-10.3 10.3zM1720 760L1680 800h10.3L1720 770.3zM1713.5 760a6.5 6.5 0 1 0 13.0 0a6.5 6.5 0 1 0 -13.0 0zM1673.5 800a6.5 6.5 0 1 0 13.0 0a6.5 6.5 0 1 0 -13.0 0zM1400 840L1360 880h10.3L1400 850.3zM1393.5 840a6.5 6.5 0 1 0 13.0 0a6.5 6.5 0 1 0 -13.0 0zM1353.5 880a6.5 6.5 0 1 0 13.0 0a6.5 6.5 0 1 0 -13.0 0zM880 880L840 920h10.3L880 890.3zM873.5 880a6.5 6.5 0 1 0 13.0 0a6.5 6.5 0 1 0 -13.0 0zM833.5 920a6.5 6.5 0 1 0 13.0 0a6.5 6.5 0 1 0 -13.0 0zM80 920L120 960h-10.3L80 930.3zM73.5 920a6.5 6.5 0 1 0 13.0 0a6.5 6.5 0 1 0 -13.0 0zM113.5 960a6.5 6.5 0 1 0 13.0 0a6.5 6.5 0 1 0 -13.0 0zM1160 1000L1120 1040h10.3L1160 1010.3zM1153.5 1000a6.5 6.5 0 1 0 13.0 0a6.5 6.5 0 1 0 -13.0 0zM1113.5 1040a6.5 6.5 0 1 0 13.0 0a6.5 6.5 0 1 0 -13.0 0zM1120 1040h10.3l-10.3 10.3zM240 1040L280 1080h-10.3L240 1050.3zM233.5 1040a6.5 6.5 0 1 0 13.0 0a6.5 6.5 0 1 0 -13.0 0zM273.5 1080a6.5 6.5 0 1 0 13.0 0a6.5 6.5 0 1 0 -13.0 0zM1120 1040L1080 1080h10.3L1120 1050.3zM1113.5 1040a6.5 6.5 0 1 0 13.0 0a6.5 6.5 0 1 0 -13.0 0zM1073.5 1080a6.5 6.5 0 1 0 13.0 0a6.5 6.5 0 1 0 -13.0 0zM480 1160L520 1200h-10.3L480 1170.3zM473.5 1160a6.5 6.5 0 1 0 13.0 0a6.5 6.5 0 1 0 -13.0 0zM513.5 1200a6.5 6.5 0 1 0 13.0 0a6.5 6.5 0 1 0 -13.0 0zM520 1200h-10.3l10.3 10.3zM360 1200L400 1240h-10.3L360 1210.3zM353.5 1200a6.5 6.5 0 1 0 13.0 0a6.5 6.5 0 1 0 -13.0 0zM393.5 1240a6.5 6.5 0 1 0 13.0 0a6.5 6.5 0 1 0 -13.0 0zM480 1200L520 1240v-10.3L490.3 1200zM473.5 1200a6.5 6.5 0 1 0 13.0 0a6.5 6.5 0 1 0 -13.0 0zM513.5 1240a6.5 6.5 0 1 0 13.0 0a6.5 6.5 0 1 0 -13.0 0zM520 1200L560 1240h-10.3L520 1210.3zM513.5 1200a6.5 6.5 0 1 0 13.0 0a6.5 6.5 0 1 0 -13.0 0zM553.5 1240a6.5 6.5 0 1 0 13.0 0a6.5 6.5 0 1 0 -13.0 0zM840 1200L800 1240h10.3L840 1210.3zM833.5 1200a6.5 6.5 0 1 0 13.0 0a6.5 6.5 0 1 0 -13.0 0zM793.5 1240a6.5 6.5 0 1 0 13.0 0a6.5 6.5 0 1 0 -13.0 0z" fill="#59585d"/>
<path d="M1200 40h40v4.5h-40zM1240 40h40v4.5h-40zM1280 40h40v4.5h-40zM1320 40h40v4.5h-40zM1360 40h40v4.5h-40zM1400 40h40v4.5h-40zM1440 40h40v4.5h-40zM1480 40h40v4.5h-40zM1520 40h40v4.5h-40zM1560 40h40v4.5h-40zM1600 40h40v4.5h-40zM1640 40h40v4.5h-40zM960 80h40v4.5h-40zM1000 80h40v4.5h-40zM1040 80h40v4.5h-40zM1080 80h40v4.5h-40zM1120 80h40v4.5h-40zM1160 80h40v4.5h-40zM1680 80h40v4.5h-40zM920 120h40v4.5h-40zM1560 120h40v4.5h-40zM1600 120h40v4.5h-40zM1640 120h40v4.5h-40zM1720 120h40v4.5h-40zM1760 160h40v4.5h-40zM1800 200h40v4.5h-40zM880 240h40v4.5h-40zM1840 240h40v4.5h-40zM840 280h40v4.5h-40zM1880 280h40v4.5h-40zM800 320h40v4.5h-40zM1200 320h40v4.5h-40zM1920 320h40v4.5h-40zM760 360h40v4.5h-40zM1160 360h40v4.5h-40zM1960 360h40v4.5h-40zM360 400h40v4.5h-40zM400 400h40v4.5h-40zM440 400h40v4.5h-40zM480 400h40v4.5h-40zM520 400h40v4.5h-40zM560 400h40v4.5h-40zM600 400h40v4.5h-40zM640 400h40v4.5h-40zM680 400h40v4.5h-40zM720 400h40v4.5h-40zM1120 400h40v4.5h-40zM320 440h40v4.5h-40zM280 480h40v4.5h-40zM1440 480h40v4.5h-40zM240 520h40v4.5h-40zM1400 520h40v4.5h-40zM200 560h40v4.5h-40zM1360 560h40v4.5h-40zM160 600h40v4.5h-40zM1920 600h40v4.5h-40zM80 640h40v4.5h-40zM120 640h40v4.5h-40zM1880 640h40v4.5h-40zM40 680h40v4.5h-40zM1760 680h40v4.5h-40zM1800 680h40v4.5h-40zM640 720h40v4.5h-40zM560 760h40v4.5h-40zM1400 840h40v4.5h-40zM1640 840h40v4.5h-40zM880 880h40v4.5h-40zM1240 880h40v4.5h-40zM1280 880h40v4.5h-40zM1320 880h40v4.5h-40zM1440 880h40v4.5h-40zM1480 880h40v4.5h-40zM1520 880h40v4.5h-40zM1560 880h40v4.5h-40zM1600 880h40v4.5h-40zM800 920h40v4.5h-40zM1200 920h40v4.5h-40zM120 960h40v4.5h-40zM1160 960h40v4.5h-40zM160 1000h40v4.5h-40zM200 1040h40v4.5h-40zM280 1120h40v4.5h-40zM320 1160h40v4.5h-40zM360 1160h40v4.5h-40zM400 1160h40v4.5h-40zM440 1160h40v4.5h-40zM1040 1160h40v4.5h-40zM840 1200h40v4.5h-40zM880 1200h40v4.5h-40zM920 1200h40v4.5h-40zM960 1200h40v4.5h-40zM1000 1200h40v4.5h-40zM400 1240h40v4.5h-40zM440 1240h40v4.5h-40zM480 1240h40v4.5h-40zM560 1240h40v4.5h-40zM600 1240h40v4.5h-40zM640 1240h40v4.5h-40zM680 1240h40v4.5h-40zM720 1240h40v4.5h-40zM760 1240h40v4.5h-40z" fill="#37373c"/>
<path d="M1200 40h5v19h-5zM960 80h5v19h-5zM920 120h5v40h-5zM920 160h5v40h-5zM1720 160h5v40h-5zM920 200h5v19h-5zM1760 200h5v40h-5zM880 240h5v19h-5zM840 280h5v19h-5zM1840 280h5v40h-5zM800 320h5v19h-5zM1200 320h5v19h-5zM1880 320h5v40h-5zM760 360h5v19h-5zM1160 360h5v19h-5zM360 400h5v19h-5zM1120 400h5v40h-5zM1960 400h5v40h-5zM320 440h5v19h-5zM600 440h5v40h-5zM1960 440h5v40h-5zM280 480h5v19h-5zM1440 480h5v19h-5zM1960 480h5v40h-5zM240 520h5v19h-5zM1400 520h5v19h-5zM1960 520h5v40h-5zM200 560h5v19h-5zM1360 560h5v40h-5zM1960 560h5v19h-5zM160 600h5v19h-5zM1920 600h5v19h-5zM80 640h5v19h-5zM40 680h5v40h-5zM1760 680h5v40h-5zM40 720h5v40h-5zM40 760h5v40h-5zM560 760h5v40h-5zM40 800h5v40h-5zM560 800h5v40h-5zM1680 800h5v19h-5zM40 840h5v40h-5zM1640 840h5v19h-5zM40 880h5v40h-5zM1240 880h5v19h-5zM40 920h5v40h-5zM800 920h5v40h-5zM1200 920h5v19h-5zM80 960h5v40h-5zM800 960h5v40h-5zM1160 960h5v40h-5zM120 1000h5v40h-5zM160 1040h5v40h-5zM200 1080h5v40h-5zM1080 1080h5v40h-5zM240 1120h5v40h-5zM1080 1120h5v19h-5zM280 1160h5v40h-5zM1040 1160h5v19h-5zM320 1200h5v40h-5zM360 1240h5v40h-5z" fill="#39393e"/>
<path d="M1240 75h40v5h-40zM1280 75h40v5h-40zM1320 75h40v5h-40zM1360 75h40v5h-40zM1400 75h40v5h-40zM1440 75h40v5h-40zM1520 75h40v5h-40zM1560 75h40v5h-40zM1600 75h40v5h-40zM1000 115h40v5h-40zM1040 115h40v5h-40zM1080 115h40v5h-40zM1120 115h40v5h-40zM1160 115h40v5h-40zM960 155h40v5h-40zM1560 155h40v5h-40zM1600 155h40v5h-40zM1640 155h40v5h-40zM1680 155h40v5h-40zM1720 195h40v5h-40zM1800 275h40v5h-40zM1840 315h40v5h-40zM840 355h40v5h-40zM1880 355h40v5h-40zM800 395h40v5h-40zM1200 395h40v5h-40zM400 435h40v5h-40zM440 435h40v5h-40zM480 435h40v5h-40zM520 435h40v5h-40zM560 435h40v5h-40zM680 435h40v5h-40zM720 435h40v5h-40zM760 435h40v5h-40zM1120 435h40v5h-40zM360 475h40v5h-40zM600 475h40v5h-40zM1440 555h40v5h-40zM1360 595h40v5h-40zM200 635h40v5h-40zM240 635h40v5h-40zM1960 635h40v5h-40zM120 675h40v5h-40zM1880 675h40v5h-40zM1920 675h40v5h-40zM80 715h40v5h-40zM1840 715h40v5h-40zM640 755h40v5h-40zM1800 755h40v5h-40zM600 795h40v5h-40zM1760 795h40v5h-40zM560 835h40v5h-40zM1720 835h40v5h-40zM1680 875h40v5h-40zM880 915h40v5h-40zM1280 915h40v5h-40zM1320 915h40v5h-40zM1360 915h40v5h-40zM1400 915h40v5h-40zM1440 915h40v5h-40zM1480 915h40v5h-40zM1520 915h40v5h-40zM1560 915h40v5h-40zM1600 915h40v5h-40zM1640 915h40v5h-40zM40 955h40v5h-40zM840 955h40v5h-40zM1240 955h40v5h-40zM80 995h40v5h-40zM800 995h40v5h-40zM1200 995h40v5h-40zM120 1035h40v5h-40zM1160 1035h40v5h-40zM160 1075h40v5h-40zM1120 1075h40v5h-40zM200 1115h40v5h-40zM240 1155h40v5h-40zM280 1195h40v5h-40zM360 1195h40v5h-40zM400 1195h40v5h-40zM440 1195h40v5h-40zM1080 1195h40v5h-40zM320 1235h40v5h-40zM840 1235h40v5h-40zM880 1235h40v5h-40zM920 1235h40v5h-40zM960 1235h40v5h-40zM1000 1235h40v5h-40zM1040 1235h40v5h-40zM360 1275h40v5h-40zM400 1275h40v5h-40zM440 1275h40v5h-40zM480 1275h40v5h-40zM520 1275h40v5h-40zM560 1275h40v5h-40zM600 1275h40v5h-40zM640 1275h40v5h-40zM680 1275h40v5h-40zM720 1275h40v5h-40zM760 1275h40v5h-40zM800 1275h40v5h-40z" fill="#242428"/>
<path d="M1675 40h5v40h-5zM1715 80h5v40h-5zM995 120h5v40h-5zM1755 120h5v40h-5zM955 160h5v40h-5zM1795 160h5v40h-5zM955 200h5v40h-5zM1835 200h5v40h-5zM1875 240h5v40h-5zM1915 280h5v40h-5zM875 320h5v40h-5zM1235 320h5v40h-5zM1955 320h5v40h-5zM835 360h5v40h-5zM1235 360h5v40h-5zM1995 360h5v40h-5zM795 400h5v40h-5zM1995 400h5v40h-5zM395 440h5v40h-5zM1995 440h5v40h-5zM355 480h5v40h-5zM1475 480h5v40h-5zM1995 480h5v40h-5zM1475 520h5v40h-5zM1995 520h5v40h-5zM1995 560h5v40h-5zM275 600h5v40h-5zM1995 600h5v40h-5zM1955 640h5v40h-5zM115 680h5v40h-5zM1875 680h5v40h-5zM75 720h5v40h-5zM675 720h5v40h-5zM1835 720h5v40h-5zM75 760h5v40h-5zM635 760h5v40h-5zM1795 760h5v40h-5zM75 800h5v40h-5zM595 800h5v40h-5zM1755 800h5v40h-5zM75 840h5v40h-5zM1435 840h5v40h-5zM1715 840h5v40h-5zM75 880h5v40h-5zM915 880h5v40h-5zM1675 880h5v40h-5zM875 920h5v40h-5zM1275 920h5v40h-5zM155 960h5v40h-5zM835 960h5v40h-5zM1235 960h5v40h-5zM195 1000h5v40h-5zM1195 1000h5v40h-5zM1155 1040h5v40h-5zM275 1080h5v40h-5zM1115 1080h5v40h-5zM315 1120h5v40h-5zM1115 1120h5v40h-5zM1115 1160h5v40h-5zM1075 1200h5v40h-5zM835 1240h5v40h-5z" fill="#242428"/>
<path d="M1675 80a5 5 0 1 0 10 0a5 5 0 1 0 -10 0zM995 120a5 5 0 1 0 10 0a5 5 0 1 0 -10 0zM1715 120a5 5 0 1 0 10 0a5 5 0 1 0 -10 0zM955 160a5 5 0 1 0 10 0a5 5 0 1 0 -10 0zM1715 160a5 5 0 1 0 10 0a5 5 0 1 0 -10 0zM1755 160a5 5 0 1 0 10 0a5 5 0 1 0 -10 0zM1755 200a5 5 0 1 0 10 0a5 5 0 1 0 -10 0zM1795 200a5 5 0 1 0 10 0a5 5 0 1 0 -10 0zM1835 240a5 5 0 1 0 10 0a5 5 0 1 0 -10 0zM1835 280a5 5 0 1 0 10 0a5 5 0 1 0 -10 0zM1875 280a5 5 0 1 0 10 0a5 5 0 1 0 -10 0zM1875 320a5 5 0 1 0 10 0a5 5 0 1 0 -10 0zM1915 320a5 5 0 1 0 10 0a5 5 0 1 0 -10 0zM835 360a5 5 0 1 0 10 0a5 5 0 1 0 -10 0zM1955 360a5 5 0 1 0 10 0a5 5 0 1 0 -10 0zM795 400a5 5 0 1 0 10 0a5 5 0 1 0 -10 0zM395 440a5 5 0 1 0 10 0a5 5 0 1 0 -10 0zM595 440a5 5 0 1 0 10 0a5 5 0 1 0 -10 0zM355 480a5 5 0 1 0 10 0a5 5 0 1 0 -10 0zM1955 640a5 5 0 1 0 10 0a5 5 0 1 0 -10 0zM115 680a5 5 0 1 0 10 0a5 5 0 1 0 -10 0zM1875 680a5 5 0 1 0 10 0a5 5 0 1 0 -10 0zM75 720a5 5 0 1 0 10 0a5 5 0 1 0 -10 0zM1835 720a5 5 0 1 0 10 0a5 5 0 1 0 -10 0zM635 760a5 5 0 1 0 10 0a5 5 0 1 0 -10 0zM1795 760a5 5 0 1 0 10 0a5 5 0 1 0 -10 0zM595 800a5 5 0 1 0 10 0a5 5 0 1 0 -10 0zM1755 800a5 5 0 1 0 10 0a5 5 0 1 0 -10 0zM1715 840a5 5 0 1 0 10 0a5 5 0 1 0 -10 0zM1435 880a5 5 0 1 0 10 0a5 5 0 1 0 -10 0zM1675 880a5 5 0 1 0 10 0a5 5 0 1 0 -10 0zM875 920a5 5 0 1 0 10 0a5 5 0 1 0 -10 0zM1275 920a5 5 0 1 0 10 0a5 5 0 1 0 -10 0zM75 960a5 5 0 1 0 10 0a5 5 0 1 0 -10 0zM835 960a5 5 0 1 0 10 0a5 5 0 1 0 -10 0zM1235 960a5 5 0 1 0 10 0a5 5 0 1 0 -10 0zM115 1000a5 5 0 1 0 10 0a5 5 0 1 0 -10 0zM155 1000a5 5 0 1 0 10 0a5 5 0 1 0 -10 0zM1195 1000a5 5 0 1 0 10 0a5 5 0 1 0 -10 0zM155 1040a5 5 0 1 0 10 0a5 5 0 1 0 -10 0zM195 1040a5 5 0 1 0 10 0a5 5 0 1 0 -10 0zM1155 1040a5 5 0 1 0 10 0a5 5 0 1 0 -10 0zM195 1080a5 5 0 1 0 10 0a5 5 0 1 0 -10 0zM1115 1080a5 5 0 1 0 10 0a5 5 0 1 0 -10 0zM235 1120a5 5 0 1 0 10 0a5 5 0 1 0 -10 0zM275 1120a5 5 0 1 0 10 0a5 5 0 1 0 -10 0zM275 1160a5 5 0 1 0 10 0a5 5 0 1 0 -10 0zM315 1160a5 5 0 1 0 10 0a5 5 0 1 0 -10 0zM315 1200a5 5 0 1 0 10 0a5 5 0 1 0 -10 0zM1075 1200a5 5 0 1 0 10 0a5 5 0 1 0 -10 0zM355 1240a5 5 0 1 0 10 0a5 5 0 1 0 -10 0zM835 1240a5 5 0 1 0 10 0a5 5 0 1 0 -10 0z" fill="#242428"/>
<path d="M1240 80L1200 120v-8.4L1231.6 80zM1234.8 80a5.2 5.2 0 1 0 10.4 0a5.2 5.2 0 1 0 -10.4 0zM1194.8 120a5.2 5.2 0 1 0 10.4 0a5.2 5.2 0 1 0 -10.4 0z" fill="#1f1f23"/>
<path d="M1480 80L1520 120v-8.4L1488.4 80zM1474.8 80a5.2 5.2 0 1 0 10.4 0a5.2 5.2 0 1 0 -10.4 0zM1514.8 120a5.2 5.2 0 1 0 10.4 0a5.2 5.2 0 1 0 -10.4 0zM1520 120h8.4l-8.4 -8.4z" fill="#28282d"/>
<path d="M1520 80L1560 120h-8.4L1520 88.4zM1514.8 80a5.2 5.2 0 1 0 10.4 0a5.2 5.2 0 1 0 -10.4 0zM1554.8 120a5.2 5.2 0 1 0 10.4 0a5.2 5.2 0 1 0 -10.4 0z" fill="#27272b"/>
<path d="M1640 80L1680 120v-8.4L1648.4 80zM1634.8 80a5.2 5.2 0 1 0 10.4 0a5.2 5.2 0 1 0 -10.4 0zM1674.8 120a5.2 5.2 0 1 0 10.4 0a5.2 5.2 0 1 0 -10.4 0z" fill="#28282d"/>
<path d="M1520 120L1560 160v-8.4L1528.4 120zM1514.8 120a5.2 5.2 0 1 0 10.4 0a5.2 5.2 0 1 0 -10.4 0zM1554.8 160a5.2 5.2 0 1 0 10.4 0a5.2 5.2 0 1 0 -10.4 0z" fill="#28282d"/>
<path d="M960 240L920 280v-8.4L951.6 240zM954.8 240a5.2 5.2 0 1 0 10.4 0a5.2 5.2 0 1 0 -10.4 0zM914.8 280a5.2 5.2 0 1 0 10.4 0a5.2 5.2 0 1 0 -10.4 0zM920 280h-8.4l8.4 -8.4z" fill="#1f1f23"/>
<path d="M1760 240L1800 280v-8.4L1768.4 240zM1754.8 240a5.2 5.2 0 1 0 10.4 0a5.2 5.2 0 1 0 -10.4 0zM1794.8 280a5.2 5.2 0 1 0 10.4 0a5.2 5.2 0 1 0 -10.4 0z" fill="#28282d"/>
<path d="M920 280L880 320v-8.4L911.6 280zM914.8 280a5.2 5.2 0 1 0 10.4 0a5.2 5.2 0 1 0 -10.4 0zM874.8 320a5.2 5.2 0 1 0 10.4 0a5.2 5.2 0 1 0 -10.4 0z" fill="#1f1f23"/>
<path d="M1920 360L1960 400v-8.4L1928.4 360zM1914.8 360a5.2 5.2 0 1 0 10.4 0a5.2 5.2 0 1 0 -10.4 0zM1954.8 400a5.2 5.2 0 1 0 10.4 0a5.2 5.2 0 1 0 -10.4 0z" fill="#28282d"/>
<path d="M1200 400L1160 440v-8.4L1191.6 400zM1194.8 400a5.2 5.2 0 1 0 10.4 0a5.2 5.2 0 1 0 -10.4 0zM1154.8 440a5.2 5.2 0 1 0 10.4 0a5.2 5.2 0 1 0 -10.4 0z" fill="#1f1f23"/>
<path d="M680 440L640 480v-8.4L671.6 440zM674.8 440a5.2 5.2 0 1 0 10.4 0a5.2 5.2 0 1 0 -10.4 0zM634.8 480a5.2 5.2 0 1 0 10.4 0a5.2 5.2 0 1 0 -10.4 0z" fill="#1f1f23"/>
<path d="M360 520L320 560v-8.4L351.6 520zM354.8 520a5.2 5.2 0 1 0 10.4 0a5.2 5.2 0 1 0 -10.4 0zM314.8 560a5.2 5.2 0 1 0 10.4 0a5.2 5.2 0 1 0 -10.4 0zM320 560h-8.4l8.4 -8.4z" fill="#1f1f23"/>
<path d="M320 560L280 600v-8.4L311.6 560zM314.8 560a5.2 5.2 0 1 0 10.4 0a5.2 5.2 0 1 0 -10.4 0zM274.8 600a5.2 5.2 0 1 0 10.4 0a5.2 5.2 0 1 0 -10.4 0z" fill="#1f1f23"/>
<path d="M1440 560L1400 600v-8.4L1431.6 560zM1434.8 560a5.2 5.2 0 1 0 10.4 0a5.2 5.2 0 1 0 -10.4 0zM1394.8 600a5.2 5.2 0 1 0 10.4 0a5.2 5.2 0 1 0 -10.4 0z" fill="#1f1f23"/>
<path d="M200 640L160 680v-8.4L191.6 640zM194.8 640a5.2 5.2 0 1 0 10.4 0a5.2 5.2 0 1 0 -10.4 0zM154.8 680a5.2 5.2 0 1 0 10.4 0a5.2 5.2 0 1 0 -10.4 0z" fill="#1f1f23"/>
<path d="M1880 640L1840 680h8.4L1880 648.4zM1874.8 640a5.2 5.2 0 1 0 10.4 0a5.2 5.2 0 1 0 -10.4 0zM1834.8 680a5.2 5.2 0 1 0 10.4 0a5.2 5.2 0 1 0 -10.4 0z" fill="#36363b"/>
<path d="M640 720L600 760h8.4L640 728.4zM634.8 720a5.2 5.2 0 1 0 10.4 0a5.2 5.2 0 1 0 -10.4 0zM594.8 760a5.2 5.2 0 1 0 10.4 0a5.2 5.2 0 1 0 -10.4 0z" fill="#36363b"/>
<path d="M1760 720L1720 760h8.4L1760 728.4zM1754.8 720a5.2 5.2 0 1 0 10.4 0a5.2 5.2 0 1 0 -10.4 0zM1714.8 760a5.2 5.2 0 1 0 10.4 0a5.2 5.2 0 1 0 -10.4 0zM1720 760h8.4l-8.4 8.4z" fill="#36363b"/>
<path d="M1720 760L1680 800h8.4L1720 768.4zM1714.8 760a5.2 5.2 0 1 0 10.4 0a5.2 5.2 0 1 0 -10.4 0zM1674.8 800a5.2 5.2 0 1 0 10.4 0a5.2 5.2 0 1 0 -10.4 0z" fill="#36363b"/>
<path d="M1400 840L1360 880h8.4L1400 848.4zM1394.8 840a5.2 5.2 0 1 0 10.4 0a5.2 5.2 0 1 0 -10.4 0zM1354.8 880a5.2 5.2 0 1 0 10.4 0a5.2 5.2 0 1 0 -10.4 0z" fill="#36363b"/>
<path d="M880 880L840 920h8.4L880 888.4zM874.8 880a5.2 5.2 0 1 0 10.4 0a5.2 5.2 0 1 0 -10.4 0zM834.8 920a5.2 5.2 0 1 0 10.4 0a5.2 5.2 0 1 0 -10.4 0z" fill="#36363b"/>
<path d="M80 920L120 960h-8.4L80 928.4zM74.8 920a5.2 5.2 0 1 0 10.4 0a5.2 5.2 0 1 0 -10.4 0zM114.8 960a5.2 5.2 0 1 0 10.4 0a5.2 5.2 0 1 0 -10.4 0z" fill="#27272b"/>
<path d="M1160 1000L1120 1040h8.4L1160 1008.4zM1154.8 1000a5.2 5.2 0 1 0 10.4 0a5.2 5.2 0 1 0 -10.4 0zM1114.8 1040a5.2 5.2 0 1 0 10.4 0a5.2 5.2 0 1 0 -10.4 0zM1120 1040h8.4l-8.4 8.4z" fill="#36363b"/>
<path d="M240 1040L280 1080h-8.4L240 1048.4zM234.8 1040a5.2 5.2 0 1 0 10.4 0a5.2 5.2 0 1 0 -10.4 0zM274.8 1080a5.2 5.2 0 1 0 10.4 0a5.2 5.2 0 1 0 -10.4 0z" fill="#27272b"/>
<path d="M1120 1040L1080 1080h8.4L1120 1048.4zM1114.8 1040a5.2 5.2 0 1 0 10.4 0a5.2 5.2 0 1 0 -10.4 0zM1074.8 1080a5.2 5.2 0 1 0 10.4 0a5.2 5.2 0 1 0 -10.4 0z" fill="#36363b"/>
<path d="M480 1160L520 1200h-8.4L480 1168.4zM474.8 1160a5.2 5.2 0 1 0 10.4 0a5.2 5.2 0 1 0 -10.4 0zM514.8 1200a5.2 5.2 0 1 0 10.4 0a5.2 5.2 0 1 0 -10.4 0zM520 1200h-8.4l8.4 8.4z" fill="#27272b"/>
<path d="M360 1200L400 1240h-8.4L360 1208.4zM354.8 1200a5.2 5.2 0 1 0 10.4 0a5.2 5.2 0 1 0 -10.4 0zM394.8 1240a5.2 5.2 0 1 0 10.4 0a5.2 5.2 0 1 0 -10.4 0z" fill="#27272b"/>
<path d="M480 1200L520 1240v-8.4L488.4 1200zM474.8 1200a5.2 5.2 0 1 0 10.4 0a5.2 5.2 0 1 0 -10.4 0zM514.8 1240a5.2 5.2 0 1 0 10.4 0a5.2 5.2 0 1 0 -10.4 0z" fill="#28282d"/>
<path d="M520 1200L560 1240h-8.4L520 1208.4zM514.8 1200a5.2 5.2 0 1 0 10.4 0a5.2 5.2 0 1 0 -10.4 0zM554.8 1240a5.2 5.2 0 1 0 10.4 0a5.2 5.2 0 1 0 -10.4 0z" fill="#27272b"/>
<path d="M840 1200L800 1240h8.4L840 1208.4zM834.8 1200a5.2 5.2 0 1 0 10.4 0a5.2 5.2 0 1 0 -10.4 0zM794.8 1240a5.2 5.2 0 1 0 10.4 0a5.2 5.2 0 1 0 -10.4 0z" fill="#36363b"/>
</g>
<rect x="1213.8" y="74.8" width="7.4" height="6.9" rx="2.4" fill="#57565b"/>
<rect x="1215" y="76" width="5" height="4.5" rx="1.5" fill="#29292e"/>
<rect x="973.8" y="114.8" width="7.4" height="25.9" rx="2.4" fill="#57565b"/>
<rect x="975" y="116" width="5" height="23.5" rx="1.5" fill="#29292e"/>
<rect x="933.8" y="234.8" width="7.4" height="6.9" rx="2.4" fill="#57565b"/>
<rect x="935" y="236" width="5" height="4.5" rx="1.5" fill="#29292e"/>
<rect x="893.8" y="274.8" width="7.4" height="6.9" rx="2.4" fill="#57565b"/>
<rect x="895" y="276" width="5" height="4.5" rx="1.5" fill="#29292e"/>
<rect x="853.8" y="314.8" width="7.4" height="25.9" rx="2.4" fill="#57565b"/>
<rect x="855" y="316" width="5" height="23.5" rx="1.5" fill="#29292e"/>
<rect x="813.8" y="354.8" width="7.4" height="25.9" rx="2.4" fill="#57565b"/>
<rect x="815" y="356" width="5" height="23.5" rx="1.5" fill="#29292e"/>
<rect x="1213.8" y="354.8" width="7.4" height="25.9" rx="2.4" fill="#57565b"/>
<rect x="1215" y="356" width="5" height="23.5" rx="1.5" fill="#29292e"/>
<rect x="773.8" y="394.8" width="7.4" height="25.9" rx="2.4" fill="#57565b"/>
<rect x="775" y="396" width="5" height="23.5" rx="1.5" fill="#29292e"/>
<rect x="1173.8" y="394.8" width="7.4" height="6.9" rx="2.4" fill="#57565b"/>
<rect x="1175" y="396" width="5" height="4.5" rx="1.5" fill="#29292e"/>
<rect x="373.8" y="434.8" width="7.4" height="25.9" rx="2.4" fill="#57565b"/>
<rect x="375" y="436" width="5" height="23.5" rx="1.5" fill="#29292e"/>
<rect x="333.8" y="474.8" width="7.4" height="25.9" rx="2.4" fill="#57565b"/>
<rect x="335" y="476" width="5" height="23.5" rx="1.5" fill="#29292e"/>
<rect x="293.8" y="514.8" width="7.4" height="25.9" rx="2.4" fill="#57565b"/>
<rect x="295" y="516" width="5" height="23.5" rx="1.5" fill="#29292e"/>
<rect x="1453.8" y="514.8" width="7.4" height="25.9" rx="2.4" fill="#57565b"/>
<rect x="1455" y="516" width="5" height="23.5" rx="1.5" fill="#29292e"/>
<rect x="253.8" y="554.8" width="7.4" height="25.9" rx="2.4" fill="#57565b"/>
<rect x="255" y="556" width="5" height="23.5" rx="1.5" fill="#29292e"/>
<rect x="1413.8" y="554.8" width="7.4" height="6.9" rx="2.4" fill="#57565b"/>
<rect x="1415" y="556" width="5" height="4.5" rx="1.5" fill="#29292e"/>
<rect x="213.8" y="594.8" width="7.4" height="25.9" rx="2.4" fill="#57565b"/>
<rect x="215" y="596" width="5" height="23.5" rx="1.5" fill="#29292e"/>
<rect x="1973.8" y="594.8" width="7.4" height="25.9" rx="2.4" fill="#57565b"/>
<rect x="1975" y="596" width="5" height="23.5" rx="1.5" fill="#29292e"/>
<rect x="173.8" y="634.8" width="7.4" height="6.9" rx="2.4" fill="#57565b"/>
<rect x="175" y="636" width="5" height="4.5" rx="1.5" fill="#29292e"/>
<rect x="1933.8" y="634.8" width="7.4" height="25.9" rx="2.4" fill="#57565b"/>
<rect x="1935" y="636" width="5" height="23.5" rx="1.5" fill="#29292e"/>
<rect x="93.8" y="674.8" width="7.4" height="25.9" rx="2.4" fill="#57565b"/>
<rect x="95" y="676" width="5" height="23.5" rx="1.5" fill="#29292e"/>
<rect x="1693.8" y="834.8" width="7.4" height="25.9" rx="2.4" fill="#57565b"/>
<rect x="1695" y="836" width="5" height="23.5" rx="1.5" fill="#29292e"/>
<rect x="1653.8" y="874.8" width="7.4" height="25.9" rx="2.4" fill="#57565b"/>
<rect x="1655" y="876" width="5" height="23.5" rx="1.5" fill="#29292e"/>
<rect x="1253.8" y="914.8" width="7.4" height="25.9" rx="2.4" fill="#57565b"/>
<rect x="1255" y="916" width="5" height="23.5" rx="1.5" fill="#29292e"/>
<rect x="1213.8" y="954.8" width="7.4" height="25.9" rx="2.4" fill="#57565b"/>
<rect x="1215" y="956" width="5" height="23.5" rx="1.5" fill="#29292e"/>
<rect x="1093.8" y="1154.8" width="7.4" height="25.9" rx="2.4" fill="#57565b"/>
<rect x="1095" y="1156" width="5" height="23.5" rx="1.5" fill="#29292e"/>
<rect x="1053.8" y="1194.8" width="7.4" height="25.9" rx="2.4" fill="#57565b"/>
<rect x="1055" y="1196" width="5" height="23.5" rx="1.5" fill="#29292e"/>
<use href="#sp" x="420" y="460"/>
<use href="#sp" x="460" y="460"/>
<use href="#sp" x="500" y="460"/>
<use href="#sp" x="540" y="460"/>
<use href="#sp" x="580" y="460"/>
<use href="#sp" x="1460" y="860"/>
<use href="#sp" x="1500" y="860"/>
<use href="#sp" x="1540" y="860"/>
<use href="#sp" x="1580" y="860"/>
<use href="#sp" x="1620" y="860"/>
<use href="#sp" x="1180" y="340"/>
<use href="#sp" x="1140" y="380"/>
<use href="#sp" x="820" y="620"/>
<use href="#sp" x="1140" y="620"/>
<use href="#sp" x="900" y="700"/>
<use href="#sp" x="1220" y="700"/>
<use href="#sp" x="900" y="940"/>
<use href="#sp" x="860" y="980"/>
<use href="#bm" x="980" y="180"/>
<use href="#bm" x="220" y="660"/>
<use href="#bm" x="140" y="700"/>
<use href="#bm" x="1900" y="620"/>
<use href="#bm" x="1820" y="660"/>
<use href="#bm" x="1060" y="1140"/>
<use href="#gr" x="1100" y="300"/>
<use href="#gr" x="940" y="1020"/>
<use href="#cy" x="940" y="580"/>
<use href="#cy" x="1100" y="740"/>
<use href="#co" x="500" y="660"/>
<use href="#co" x="1620" y="580"/>
<use href="#ct" x="420" y="740"/>
<use href="#ct" x="1540" y="660"/>
<use href="#fr" x="320" y="880"/>
<use href="#fb" x="1680" y="400"/>
</svg>
</body></html>
